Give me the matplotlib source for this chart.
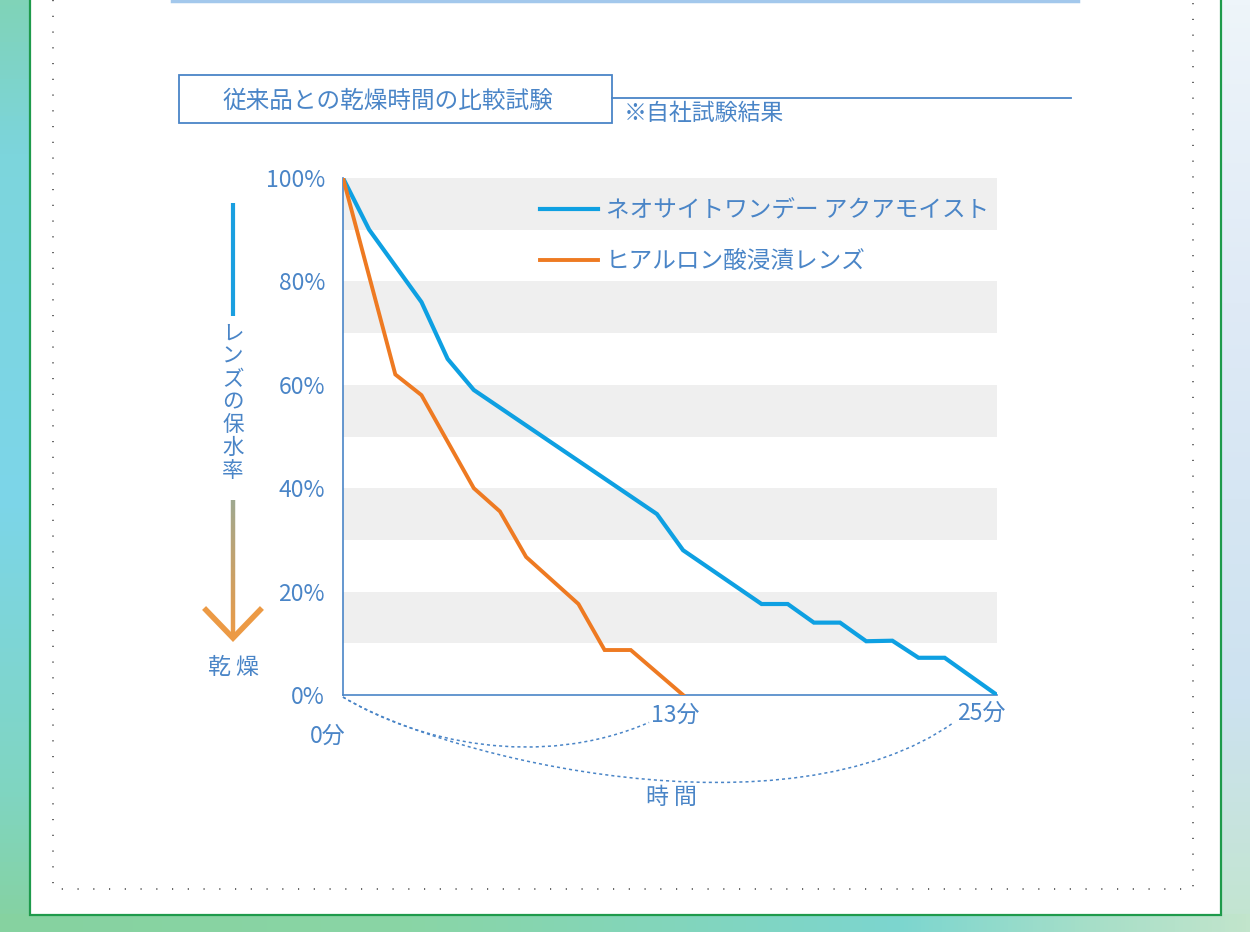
"""Drying-time comparison chart: lens water retention vs. time."""

import matplotlib

matplotlib.use("Agg")

import matplotlib.pyplot as plt
import numpy as np
from matplotlib.collections import LineCollection
from matplotlib.colors import to_rgb
from matplotlib.path import Path
from matplotlib.patches import PathPatch, Rectangle

plt.rcParams["font.family"] = ["Noto Sans CJK JP", "DejaVu Sans"]

# data (minutes, % water retention)
neo_x = [0, 1, 3, 4, 5, 12, 13, 16, 17, 18, 19, 20, 21, 22, 23, 25]
neo_y = [100, 90, 76, 65, 59, 35, 28, 17.6, 17.6, 14, 14, 10.4, 10.5, 7.2, 7.2, 0]
hya_x = [0, 2, 3, 5, 6, 7, 9, 10, 11, 13]
hya_y = [100, 62, 58, 40, 35.5, 26.7, 17.6, 8.7, 8.7, 0]
series_names = ["ネオサイトワンデー アクアモイスト", "ヒアルロン酸浸漬レンズ"]
y_ticks = [0, 20, 40, 60, 80, 100]
y_tick_labels = ["0%", "20%", "40%", "60%", "80%", "100%"]
x_marks = [0, 13, 25]
x_mark_labels = ["0分", "13分", "25分"]
band_ranges = [(10, 20), (30, 40), (50, 60), (70, 80), (90, 100)]

TEXT = "#4a85c7"
BLUE = "#0ea0e2"
ORANGE = "#ee7a22"
W, H = 1250, 932

fig = plt.figure(figsize=(W / 100, H / 100), dpi=100)

# ---- background / frame, in pixel coords ----
bg = fig.add_axes([0, 0, 1, 1], zorder=0)
bg.set_xlim(0, W)
bg.set_ylim(H, 0)
bg.axis("off")


def strip(stops, colors, n):
    cols = np.array([to_rgb(c) for c in colors])
    t = np.linspace(stops[0], stops[-1], n)
    return np.stack([np.interp(t, stops, cols[:, k]) for k in range(3)], axis=-1)


left = strip([0, 150, 500, 800, 932], ["#80d3b8", "#7cd5dc", "#7cd6e9", "#80d5c0", "#86d2a0"], 200)
bg.imshow(left[:, None, :], extent=(0, 31, H, 0), aspect="auto")
right = strip([0, 300, 700, 932], ["#eef5fa", "#dfeaf6", "#cde2f0", "#c2e5cf"], 200)
bg.imshow(right[:, None, :], extent=(1220, W, H, 0), aspect="auto")
bottom = strip([0, 400, 900, 1100, 1250], ["#86d2a0", "#8ad5a5", "#7cd6cf", "#a8dfc8", "#c2e5cc"], 300)
bg.imshow(bottom[None, :, :], extent=(0, W, H, 914), aspect="auto")

bg.add_patch(Rectangle((30, -10), 1191, 925, facecolor="white", edgecolor="#1e9a4b", lw=1.6))
bg.plot([53, 53, 1193, 1193], [0, 889, 889, 0], color="#666666", lw=1.4,
        linestyle=(0, (0.6, 7.5)), dash_capstyle="butt")
bg.plot([172, 1078], [1, 1], color="#a3c8ec", lw=2.5)

# title box
bg.add_patch(Rectangle((179, 75), 433, 48, facecolor="none", edgecolor="#4a85c7", lw=1.3))
bg.plot([612, 1071], [98, 98], color="#4a85c7", lw=1.3)
bg.text(388, 101, "従来品との乾燥時間の比較試験", color=TEXT, fontsize=17,
        ha="center", va="center")
bg.text(624, 113, "※自社試験結果", color=TEXT, fontsize=16.5, ha="left", va="center")

# left vertical annotation
bg.plot([233, 233], [203, 316], color="#1a9fe0", lw=3, solid_capstyle="butt")
for i, ch in enumerate("レンズの保水率"):
    bg.text(233, 334 + i * 22.8, ch, color=TEXT, fontsize=15.5, ha="center", va="center")
ys = np.linspace(500, 636, 60)
segs = [[(233, ys[i]), (233, ys[i + 1])] for i in range(len(ys) - 1)]
c0, c1 = np.array(to_rgb("#9fa88f")), np.array(to_rgb("#ec9a45"))
seg_cols = [c0 + (c1 - c0) * f for f in np.linspace(0, 1, len(segs))]
bg.add_collection(LineCollection(segs, colors=seg_cols, lw=3.2))
bg.plot([206, 233, 260], [610, 638, 610], color="#ec9a45", lw=4, solid_joinstyle="miter")
bg.text(233, 668, "乾 燥", color=TEXT, fontsize=16.5, ha="center", va="center")

# ---- chart axes ----
x0, x1, y0, y1 = 343, 997, 695, 178
ax = fig.add_axes([x0 / W, (H - y0) / H, (x1 - x0) / W, (y0 - y1) / H], zorder=1)
ax.set_facecolor("none")
ax.set_xlim(0, 25)
ax.set_ylim(0, 100)
for lo, hi in band_ranges:
    ax.axhspan(lo, hi, color="#efefef", lw=0, zorder=0)

ax.plot(neo_x, neo_y, color=BLUE, lw=3, label=series_names[0], zorder=3,
        solid_joinstyle="miter")
ax.plot(hya_x, hya_y, color=ORANGE, lw=2.8, label=series_names[1], zorder=3,
        solid_joinstyle="miter")

for s in ["top", "right"]:
    ax.spines[s].set_visible(False)
for s in ["left", "bottom"]:
    ax.spines[s].set_color(TEXT)
    ax.spines[s].set_linewidth(1.2)

ax.set_yticks(y_ticks)
ax.set_yticklabels(y_tick_labels)
ax.tick_params(axis="y", length=0, pad=13, labelsize=16.5, labelcolor=TEXT)
ax.set_xticks([])

# x labels (0分 sits lower-left of the origin)
label_offsets = [(-0.6, -8.0), (-0.3, -4.0), (-0.6, -3.6)]
for xm, lab, (dx, dy) in zip(x_marks, x_mark_labels, label_offsets):
    ax.text(xm + dx, dy, lab, color=TEXT, fontsize=16.5, ha="center", va="center",
            clip_on=False)

# dotted time arcs from origin toward the 13 and 25 min labels
arcs = [
    [(0, -0.4), (2.8, -9.0), (7.5, -14.5), (11.7, -5.3)],
    [(0, -0.4), (4.0, -12.5), (17.0, -28.0), (23.35, -5.3)],
]
for pts in arcs:
    path = Path(pts, [Path.MOVETO, Path.CURVE4, Path.CURVE4, Path.CURVE4])
    ax.add_patch(PathPatch(path, facecolor="none", edgecolor=TEXT, lw=1.1,
                           linestyle=(0, (2, 2)), clip_on=False))
ax.text(12.55, -19.8, "時 間", color=TEXT, fontsize=16.5, ha="center", va="center",
        clip_on=False)

ax.legend(loc="upper left", bbox_to_anchor=(0.301, 0.958), frameon=False,
          fontsize=17, handlelength=2.46, handletextpad=0.34, labelspacing=1.16,
          borderpad=0, borderaxespad=0, labelcolor=TEXT)

fig.savefig("out.png", dpi=100)
